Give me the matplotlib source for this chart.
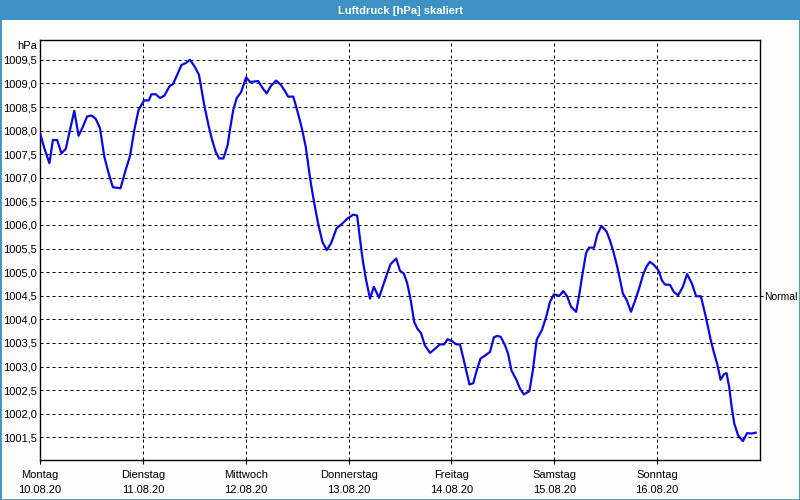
import matplotlib
matplotlib.use("Agg")
import matplotlib.pyplot as plt
from matplotlib.patches import Rectangle

plt.rcParams["font.family"] = ["Liberation Sans", "DejaVu Sans"]

title = "Luftdruck [hPa] skaliert"
unit_label = "hPa"
day_names = ["Montag", "Dienstag", "Mittwoch", "Donnerstag", "Freitag", "Samstag", "Sonntag"]
day_dates = ["10.08.20", "11.08.20", "12.08.20", "13.08.20", "14.08.20", "15.08.20", "16.08.20"]
normal_value = 1004.5
y_ticks = [1001.5, 1002.0, 1002.5, 1003.0, 1003.5, 1004.0, 1004.5, 1005.0,
           1005.5, 1006.0, 1006.5, 1007.0, 1007.5, 1008.0, 1008.5, 1009.0, 1009.5]

# hours since Monday 10.08.20 00:00
hours = [0, 1, 2.2, 3, 4, 5, 6, 7, 8, 9, 10, 11, 12, 13, 14, 15, 16, 17, 18.8, 20,
         21, 22, 23, 24.3, 25.4, 26, 27, 28, 29, 30.3, 31, 32, 33, 34, 35, 36.2, 37.1,
         37.7, 38.3, 39.3, 40.1, 41.0, 41.8, 42.8, 43.8, 44.3, 45.1, 45.9, 46.9, 48.1,
         49.0, 50.9, 52.1, 52.9, 53.9, 55.1, 56.2, 57.2, 57.9, 59.1, 60.1, 61.1, 62.0,
         62.6, 63.2, 64.0, 64.9, 65.9, 66.9, 67.9, 69.2, 70.4, 71.8, 73.1, 74.0, 74.7,
         75.3, 76.1, 77.0, 77.9, 79.1, 80.1, 81.0, 81.8, 83.1, 84.0, 84.9, 85.7, 86.5,
         87.3, 88.0, 88.9, 89.8, 91.0, 92.2, 93.3, 94.3, 95.1, 96.1, 97.1, 98.0, 98.9,
         99.6, 100.2, 101.1, 101.9, 102.8, 103.8, 105.0, 105.9, 106.7, 107.5, 108.5,
         109.2, 110.0, 111.2, 112.0, 112.9, 114.2, 115.0, 115.9, 117.1, 118.1, 119.0,
         119.9, 121.2, 122.1, 123.0, 123.9, 125.1, 125.8, 126.6, 127.4, 128.1, 129.3,
         130.0, 131.0, 132.2, 133.0, 133.8, 134.6, 135.2, 136.0, 136.9, 137.9, 138.9,
         139.8, 140.8, 141.6, 142.3, 143.3, 144.3, 145.1, 145.8, 147.0, 147.9, 148.9,
         150.0, 151.0, 152.1, 153.1, 154.2, 154.9, 155.7, 156.5, 157.3, 158.0, 158.8,
         159.6, 160.2, 160.8, 161.4, 162.0, 162.9, 164.0, 165.0, 166.0, 167.0]

pressure = [1007.95, 1007.63, 1007.31, 1007.80, 1007.80, 1007.52, 1007.61, 1008.01,
            1008.42, 1007.89, 1008.08, 1008.30, 1008.32, 1008.25, 1008.05, 1007.45,
            1007.10, 1006.80, 1006.78, 1007.17, 1007.46, 1008.01, 1008.44, 1008.64,
            1008.64, 1008.77, 1008.77, 1008.69, 1008.74, 1008.95, 1008.98, 1009.18,
            1009.39, 1009.43, 1009.50, 1009.34, 1009.18, 1008.86, 1008.55, 1008.12,
            1007.82, 1007.55, 1007.41, 1007.41, 1007.70, 1008.01, 1008.44, 1008.69,
            1008.81, 1009.13, 1009.03, 1009.05, 1008.88, 1008.79, 1008.95, 1009.06,
            1008.97, 1008.83, 1008.72, 1008.72, 1008.40, 1008.05, 1007.66, 1007.27,
            1006.88, 1006.46, 1006.03, 1005.64, 1005.47, 1005.61, 1005.93, 1006.02,
            1006.14, 1006.22, 1006.20, 1005.68, 1005.26, 1004.83, 1004.44, 1004.69,
            1004.46, 1004.73, 1004.97, 1005.17, 1005.29, 1005.03, 1004.97, 1004.76,
            1004.41, 1003.95, 1003.81, 1003.71, 1003.45, 1003.29, 1003.38, 1003.47,
            1003.47, 1003.58, 1003.54, 1003.47, 1003.47, 1003.13, 1002.85, 1002.62,
            1002.65, 1002.92, 1003.17, 1003.23, 1003.31, 1003.62, 1003.65, 1003.63,
            1003.45, 1003.28, 1002.92, 1002.71, 1002.53, 1002.41, 1002.48, 1002.92,
            1003.57, 1003.77, 1004.05, 1004.37, 1004.53, 1004.50, 1004.60, 1004.49,
            1004.27, 1004.16, 1004.51, 1004.97, 1005.40, 1005.52, 1005.52, 1005.79,
            1005.98, 1005.86, 1005.67, 1005.43, 1005.15, 1004.90, 1004.55, 1004.41,
            1004.16, 1004.41, 1004.66, 1004.97, 1005.13, 1005.22, 1005.15, 1005.04,
            1004.83, 1004.74, 1004.73, 1004.58, 1004.51, 1004.69, 1004.96, 1004.76,
            1004.49, 1004.49, 1004.23, 1003.91, 1003.56, 1003.28, 1003.06, 1002.72,
            1002.84, 1002.86, 1002.57, 1002.14, 1001.79, 1001.54, 1001.42, 1001.59,
            1001.58, 1001.60]

W, H = 800, 500
bar_color = "#3d92c5"
bg = "#fcfdfc"
fs = 8

fig = plt.figure(figsize=(W / 100, H / 100), dpi=100, facecolor=bg)

# title bar and frame
fig.patches.append(Rectangle((0, 1 - 20 / H), 1, 20 / H, transform=fig.transFigure,
                             facecolor=bar_color, edgecolor="none", zorder=0))
fig.patches.append(Rectangle((0, 0), 1, 1, transform=fig.transFigure,
                             facecolor="none", edgecolor=bar_color, linewidth=2.0, zorder=0))
fig.text(0.5, 1 - 10.5 / H, title, ha="center", va="center", color="white",
         fontsize=fs, fontweight="bold")

ax = fig.add_axes([40 / W, 1 - 460 / H, 720 / W, 420 / H])
ax.set_facecolor("white")
ax.plot(hours, pressure, color="#0a0ae0", linewidth=1.6, zorder=3)

n_days = len(day_names)
ax.set_xlim(0, 24 * n_days)
ax.set_ylim(1001.02, 1009.92)

ax.set_yticks(y_ticks)
ax.set_yticklabels([f"{v:.1f}".replace(".", ",") for v in y_ticks])
ax.set_xticks([24 * i for i in range(n_days)])
ax.set_xticklabels([f"{n}\n{d}" for n, d in zip(day_names, day_dates)], linespacing=1.65)

ax.tick_params(axis="y", length=0, pad=2.5, labelsize=fs)
ax.tick_params(axis="x", length=3, pad=4, labelsize=fs)

dash = (0, (3, 3))
for v in y_ticks:
    ax.axhline(v, color="black", linewidth=0.72, linestyle=dash, zorder=1)
for i in range(1, n_days):
    ax.axvline(24 * i, color="black", linewidth=0.72, linestyle=dash, zorder=1)

for s in ax.spines.values():
    s.set_linewidth(1.0)
    s.set_color("black")

fig.text(37 / W, 1 - 46 / H, unit_label, ha="right", va="center", fontsize=fs)

ax2 = ax.twinx()
ax2.set_ylim(ax.get_ylim())
ax2.set_yticks([normal_value])
ax2.set_yticklabels(["Normal"])
ax2.tick_params(axis="y", length=2.5, pad=0.5, labelsize=7.5)
for s in ax2.spines.values():
    s.set_visible(False)

fig.savefig("out.png", dpi=100, facecolor=bg)
